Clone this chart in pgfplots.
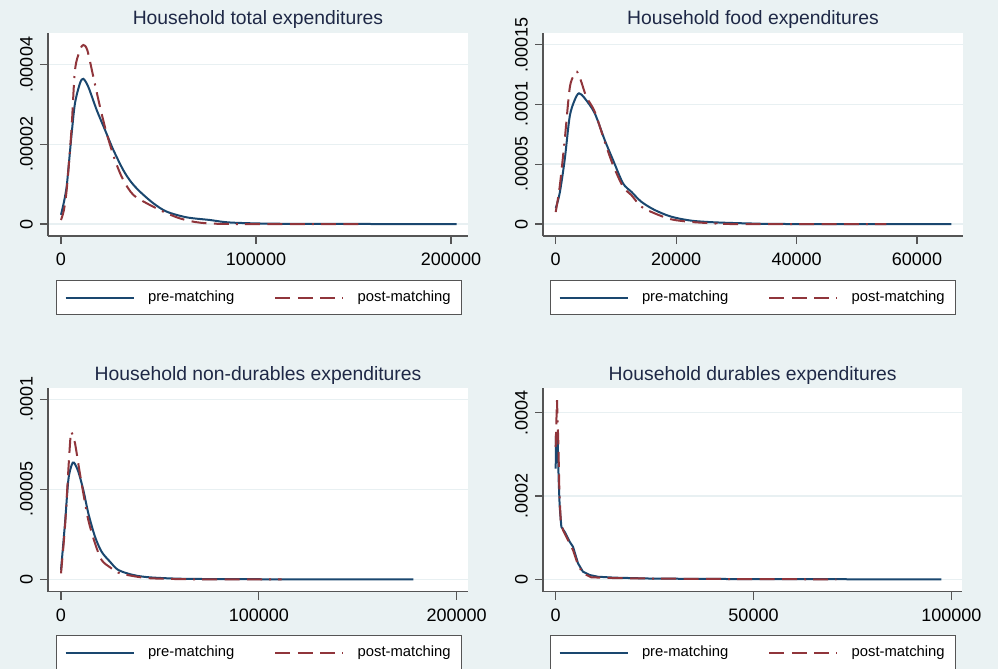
\documentclass[border=0pt]{standalone}
\usepackage{fontspec}
\setmainfont{Liberation Sans}
\usepackage{pgfplots}
\pgfplotsset{compat=1.18}
\definecolor{bg}{RGB}{234,242,243}
\definecolor{gridc}{RGB}{232,240,242}
\definecolor{pre}{RGB}{26,71,111}
\definecolor{post}{RGB}{144,53,59}
\definecolor{titlec}{RGB}{30,40,70}
\definecolor{axc}{RGB}{85,85,85}
\tikzset{
  preline/.style={draw=pre, line width=1.5bp, solid},
  postline/.style={draw=post, line width=1.5bp,
    dash pattern=on 11.25bp off 5.6bp on 11.25bp off 5.6bp on 11.25bp off 5.25bp on 1.5bp off 5.25bp},
}
\pgfplotsset{
  stata/.style={
    scale only axis,
    axis x line*=bottom, axis y line*=left,
    axis line style={-, axc, line width=0.9bp},
    major tick style={axc, line width=0.9bp},
    tick align=outside,
    major tick length=6bp,
    scaled ticks=false,
    ymajorgrids, grid style={gridc, line width=1.1bp},
    axis background/.style={fill=white},
    tick label style={font=\fontsize{13.5bp}{16bp}\selectfont, text=black},
    yticklabel style={rotate=90, anchor=base},
    yticklabel shift=5.5bp,
    xticklabel shift=3bp,
    title style={font=\fontsize{14.5bp}{17bp}\selectfont, text=titlec, anchor=base, yshift=-6pt},
    legend columns=2,
    legend cell align=left,
    legend image code/.code={\draw[##1] (0bp,0bp) -- (51bp,0bp);},
    legend style={draw=axc, line width=0.8bp, fill=white, text=black,
      font=\fontsize{11.1bp}{13bp}\selectfont, anchor=center,
      inner xsep=6bp, inner ysep=6bp,
      /tikz/every even column/.append style={column sep=28bp},
      /tikz/every odd column/.append style={column sep=8bp}},
  },
}
\begin{document}
\begin{tikzpicture}
\path[use as bounding box, clip] (0bp,0bp) rectangle (748.5bp,-501.75bp);
\fill[bg] (0bp,0bp) rectangle (748.5bp,-501.75bp);

% Panel 1
\begin{axis}[stata, at={(36bp,-177bp)}, anchor=south west,
  width=315bp, height=152.25bp,
  xmin=-6667, xmax=208718, ymin=-3.01e-6, ymax=4.79e-5,
  xtick={0,100000,200000}, xticklabels={0,100000,200000},
  ytick={0,0.00002,0.00004}, yticklabels={0,.00002,.00004},
  title={Household total expenditures}, title style={at={(0.5,1.0443)}},
  legend style={at={(0.5024,-0.303)}}]
\addplot[preline, smooth, tension=0.5] coordinates {(0,2.3e-6) (1500,5.5e-6) (2900,9.4e-6) (4200,1.6e-5) (5470,2.27e-5) (7180,3.03e-5) (9740,3.53e-5) (11450,3.64e-5) (14000,3.44e-5) (18300,2.86e-5) (22560,2.36e-5) (26820,1.86e-5) (31950,1.35e-5) (36000,1.05e-5) (40510,8.1e-6) (47350,5.2e-6) (54190,3.1e-6) (64450,1.67e-6) (76400,1.0e-6) (82000,6e-7) (88360,3.3e-7) (105000,1e-7) (130000,2e-8) (160000,0) (202900,0)};
\addlegendentry{pre-matching}
\addplot[postline, smooth, tension=0.5] coordinates {(0,1.0e-6) (1500,3.5e-6) (2900,8.5e-6) (4200,1.6e-5) (5470,2.44e-5) (7180,3.86e-5) (9740,4.36e-5) (11450,4.49e-5) (13500,4.36e-5) (16580,3.69e-5) (20000,2.94e-5) (23430,2.27e-5) (27690,1.6e-5) (31950,1.1e-5) (37080,7.3e-6) (43940,5.2e-6) (52460,3.1e-6) (61020,1.4e-6) (71280,3.3e-7) (88360,0) (152460,0)};
\addlegendentry{post-matching}
\end{axis}

% Panel 2
\begin{axis}[stata, at={(407.25bp,-177bp)}, anchor=south west,
  width=315bp, height=152.25bp,
  xmin=-2109, xmax=67640, ymin=-1.003e-5, ymax=1.597e-4,
  xtick={0,20000,40000,60000}, xticklabels={0,20000,40000,60000},
  ytick={0,0.00005,0.0001,0.00015}, yticklabels={0,.00005,.0001,.00015},
  title={Household food expenditures}, title style={at={(0.5,1.0443)}},
  legend style={at={(0.5,-0.303)}}]
\addplot[preline, smooth, tension=0.5] coordinates {(0,1.31e-5) (660,2.57e-5) (1490,5.35e-5) (2320,8.97e-5) (3160,1.037e-4) (3870,1.093e-4) (4820,1.051e-4) (6480,9.26e-5) (8140,7.02e-5) (9520,5.35e-5) (11180,3.40e-5) (12560,2.70e-5) (14220,1.86e-5) (16440,1.17e-5) (19200,6.1e-6) (22520,2.8e-6) (26410,1.4e-6) (31940,5e-7) (38500,0) (65700,0)};
\addlegendentry{pre-matching}
\addplot[postline, smooth, tension=0.5] coordinates {(0,1.0e-5) (660,3.1e-5) (1490,7.0e-5) (2320,1.134e-4) (3040,1.246e-4) (3540,1.273e-4) (4150,1.204e-4) (5090,1.064e-4) (6480,9.39e-5) (8140,6.88e-5) (9520,4.93e-5) (11180,3.12e-5) (12560,2.42e-5) (14220,1.45e-5) (16440,8.9e-6) (19200,3.9e-6) (22520,1.7e-6) (26410,5e-7) (29190,0) (54900,0)};
\addlegendentry{post-matching}
\end{axis}

% Panel 3
\begin{axis}[stata, at={(36bp,-443.8bp)}, anchor=south west,
  width=315bp, height=153bp,
  xmin=-6573, xmax=205780, ymin=-6.89e-6, ymax=1.0644e-4,
  xtick={0,100000,200000}, xticklabels={0,100000,200000},
  ytick={0,0.00005,0.0001}, yticklabels={0,.00005,.0001},
  title={Household non-durables expenditures}, title style={at={(0.5,1.0377)}},
  legend style={at={(0.5024,-0.298)}}]
\addplot[preline, smooth, tension=0.5] coordinates {(0,5.2e-6) (2020,3.11e-5) (3710,5.52e-5) (5390,6.35e-5) (6570,6.48e-5) (8760,5.98e-5) (11290,4.96e-5) (13820,3.67e-5) (17190,2.37e-5) (20560,1.53e-5) (24770,9.8e-6) (28980,5.2e-6) (36570,2.4e-6) (45000,1.1e-6) (61850,3e-7) (90000,1e-7) (120000,0) (178130,0)};
\addlegendentry{pre-matching}
\addplot[postline, smooth, tension=0.5] coordinates {(0,3.3e-6) (2020,2.92e-5) (3710,6.07e-5) (4890,8.02e-5) (5560,8.11e-5) (7080,7.56e-5) (9270,6.07e-5) (11290,4.78e-5) (13820,3.29e-5) (17190,2.0e-5) (20560,1.07e-5) (24770,6.7e-6) (28980,3.7e-6) (36570,1.8e-6) (45000,6e-7) (61850,1e-7) (80000,0) (111580,0)};
\addlegendentry{post-matching}
\end{axis}

% Panel 4
\begin{axis}[stata, at={(407.25bp,-443.8bp)}, anchor=south west,
  width=314.5bp, height=153bp,
  xmin=-3210, xmax=102787, ymin=-2.98e-5, ymax=4.60e-4,
  xtick={0,50000,100000}, xticklabels={0,50000,100000},
  ytick={0,0.0002,0.0004}, yticklabels={0,.0002,.0004},
  title={Household durables expenditures}, title style={at={(0.5,1.0377)}},
  legend style={at={(0.5008,-0.298)}}]
\addplot[preline] coordinates {(0,2.66e-4) (80,3.5e-4) (330,3.18e-4) (500,3.36e-4) (750,2.38e-4) (1010,1.74e-4) (1430,1.26e-4) (2270,1.14e-4) (3540,9.0e-5) (4380,7.8e-5) (5640,3.84e-5) (6900,1.82e-5) (8590,1.03e-5) (10700,6.2e-6) (14900,4e-6) (23300,2e-6) (35900,1e-6) (60000,3e-7) (97500,0)};
\addlegendentry{pre-matching}
\addplot[postline] coordinates {(0,3.18e-4) (80,3.5e-4) (330,4.3e-4) (500,3.74e-4) (670,3.27e-4) (920,2.14e-4) (1260,1.42e-4) (1850,1.18e-4) (3110,9.4e-5) (4380,7.0e-5) (5640,3.43e-5) (6900,1.44e-5) (9010,4.8e-6) (14900,3e-6) (23300,2e-6) (35900,1e-6) (50000,5e-7) (70930,0)};
\addlegendentry{post-matching}
\end{axis}
\end{tikzpicture}
\end{document}
